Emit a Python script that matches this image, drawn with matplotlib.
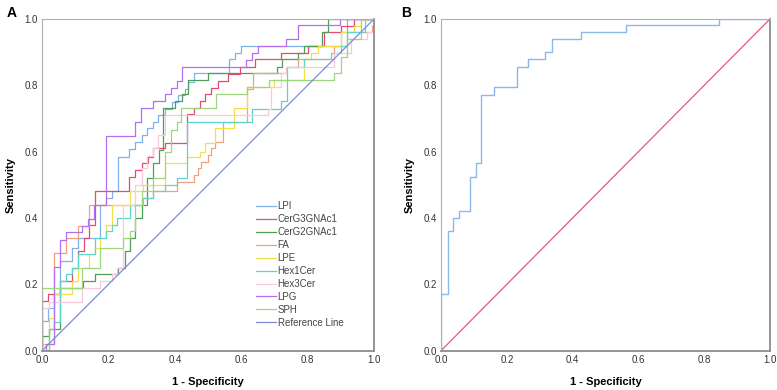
import numpy as np
import matplotlib
matplotlib.use("Agg")
import matplotlib.pyplot as plt

plt.rcParams["font.family"] = ["Liberation Sans", "DejaVu Sans"]

# Panel A: ROC step vertices (x = 1 - specificity where the curve jumps, y = sensitivity after jump)
lpi_x = [0, 0.018, 0.036, 0.054, 0.089, 0.107, 0.175, 0.193, 0.21, 0.229, 0.261, 0.279, 0.30, 0.316,
         0.334, 0.35, 0.37, 0.39, 0.41, 0.43, 0.44, 0.459, 0.564, 0.58, 0.60, 0.90, 0.92, 1.0]
lpi_y = [0.09, 0.13, 0.17, 0.27, 0.31, 0.34, 0.44, 0.46, 0.48, 0.585, 0.608, 0.63, 0.65, 0.67,
         0.69, 0.71, 0.73, 0.75, 0.77, 0.79, 0.81, 0.836, 0.878, 0.898, 0.92, 0.96, 1.0, 1.0]

cerg3_x = [0, 0.019, 0.054, 0.089, 0.107, 0.125, 0.14, 0.16, 0.263, 0.28, 0.30, 0.32, 0.335, 0.37,
           0.437, 0.458, 0.475, 0.49, 0.51, 0.53, 0.56, 0.596, 0.64, 0.72, 0.80, 0.85, 0.90, 0.94, 1.0]
cerg3_y = [0.15, 0.17, 0.21, 0.25, 0.30, 0.34, 0.38, 0.48, 0.523, 0.545, 0.565, 0.585, 0.61, 0.627,
           0.713, 0.733, 0.753, 0.773, 0.793, 0.813, 0.834, 0.856, 0.878, 0.898, 0.92, 0.96, 0.98, 1.0, 1.0]

cerg2_x = [0, 0.02, 0.053, 0.124, 0.159, 0.229, 0.249, 0.265, 0.28, 0.30, 0.315, 0.335, 0.352, 0.365,
           0.40, 0.421, 0.44, 0.50, 0.707, 0.722, 0.772, 0.79, 0.842, 0.862, 1.0]
cerg2_y = [0.044, 0.065, 0.19, 0.21, 0.23, 0.25, 0.30, 0.34, 0.40, 0.44, 0.52, 0.565, 0.605, 0.733,
           0.753, 0.773, 0.816, 0.836, 0.856, 0.878, 0.898, 0.92, 0.96, 1.0, 1.0]

fa_x = [0, 0.037, 0.072, 0.107, 0.142, 0.305, 0.335, 0.405, 0.458, 0.47, 0.48, 0.50, 0.51, 0.52,
        0.545, 0.616, 0.634, 0.735, 0.77, 0.88, 0.92, 0.995, 1.0]
fa_y = [0.02, 0.295, 0.34, 0.377, 0.44, 0.46, 0.48, 0.51, 0.53, 0.55, 0.57, 0.59, 0.61, 0.63,
        0.69, 0.79, 0.836, 0.856, 0.878, 0.92, 0.96, 0.98, 1.0]

lpe_x = [0.02, 0.037, 0.09, 0.107, 0.142, 0.16, 0.175, 0.193, 0.21, 0.265, 0.305, 0.37, 0.437,
         0.476, 0.49, 0.52, 0.578, 0.616, 0.70, 0.79, 0.81, 0.83, 0.90, 0.94, 0.96, 1.0]
lpe_y = [0.10, 0.17, 0.21, 0.25, 0.29, 0.31, 0.34, 0.38, 0.44, 0.48, 0.50, 0.565, 0.585,
         0.60, 0.627, 0.67, 0.731, 0.796, 0.816, 0.878, 0.898, 0.92, 0.96, 0.98, 1.0, 1.0]

hex1_x = [0.02, 0.037, 0.054, 0.072, 0.09, 0.107, 0.16, 0.193, 0.21, 0.227, 0.265, 0.30, 0.335,
          0.37, 0.405, 0.437, 0.632, 0.72, 0.737, 0.79, 0.87, 0.90, 0.92, 0.973, 1.0]
hex1_y = [0.065, 0.085, 0.21, 0.23, 0.25, 0.29, 0.34, 0.36, 0.38, 0.40, 0.44, 0.46, 0.48,
          0.50, 0.52, 0.69, 0.73, 0.753, 0.856, 0.878, 0.898, 0.92, 0.96, 1.0, 1.0]

hex3_x = [0, 0.02, 0.12, 0.175, 0.21, 0.227, 0.245, 0.28, 0.30, 0.315, 0.335, 0.35, 0.37, 0.68,
          0.69, 0.72, 0.735, 0.88, 0.93, 0.98, 1.0]
hex3_y = [0.128, 0.148, 0.19, 0.21, 0.23, 0.25, 0.44, 0.50, 0.55, 0.588, 0.61, 0.65, 0.71, 0.73,
          0.794, 0.836, 0.856, 0.898, 0.94, 0.96, 1.0]

lpg_x = [0.013, 0.035, 0.053, 0.071, 0.121, 0.139, 0.156, 0.194, 0.281, 0.299, 0.334, 0.37, 0.388,
         0.405, 0.421, 0.615, 0.633, 0.651, 0.735, 0.772, 0.898, 1.0]
lpg_y = [0.02, 0.253, 0.334, 0.357, 0.377, 0.397, 0.44, 0.648, 0.689, 0.731, 0.753, 0.773, 0.793,
         0.813, 0.856, 0.876, 0.898, 0.92, 0.94, 0.982, 1.0, 1.0]

sph_x = [0, 0.12, 0.175, 0.245, 0.265, 0.28, 0.30, 0.335, 0.37, 0.388, 0.405, 0.42, 0.525, 0.616,
         0.684, 0.878, 0.899, 0.92, 0.96, 1.0]
sph_y = [0.19, 0.25, 0.31, 0.34, 0.36, 0.44, 0.48, 0.52, 0.60, 0.665, 0.69, 0.733, 0.773, 0.794,
         0.816, 0.836, 0.886, 0.94, 1.0, 1.0]

series_a = [
    ("LPI", lpi_x, lpi_y, "#80b1e9"),
    ("CerG3GNAc1", cerg3_x, cerg3_y, "#e64a6c"),
    ("CerG2GNAc1", cerg2_x, cerg2_y, "#4f9e55"),
    ("FA", fa_x, fa_y, "#f3a07c"),
    ("LPE", lpe_x, lpe_y, "#f2e04a"),
    ("Hex1Cer", hex1_x, hex1_y, "#5ed5cb"),
    ("Hex3Cer", hex3_x, hex3_y, "#f8c8de"),
    ("LPG", lpg_x, lpg_y, "#b46ef0"),
    ("SPH", sph_x, sph_y, "#9dd67c"),
]

# Panel B: combined model
comb_x = [0, 0.020, 0.036, 0.054, 0.089, 0.107, 0.123, 0.160, 0.230, 0.264, 0.316, 0.336, 0.424,
          0.562, 0.844, 1.0]
comb_y = [0.17, 0.36, 0.40, 0.42, 0.524, 0.565, 0.772, 0.794, 0.856, 0.878, 0.899, 0.94, 0.961,
          0.982, 1.0, 1.0]

ticks = [0.0, 0.2, 0.4, 0.6, 0.8, 1.0]


def style_axes(ax):
    ax.set_xlim(0, 1)
    ax.set_ylim(0, 1)
    ax.set_xticks(ticks)
    ax.set_yticks(ticks)
    ax.set_xticklabels([f"{t:.1f}" for t in ticks], fontsize=7, color="#333333")
    ax.set_yticklabels([f"{t:.1f}" for t in ticks], fontsize=7, color="#333333")
    ax.tick_params(length=0, pad=3)
    for side in ("top", "left"):
        ax.spines[side].set_color("#b0b0b0")
        ax.spines[side].set_linewidth(0.8)
    for side in ("right", "bottom"):
        ax.spines[side].set_color("#8c8c8c")
        ax.spines[side].set_linewidth(1.3)
    ax.set_xlabel("1 - Specificity", fontsize=8, fontweight="bold", labelpad=9)
    ax.set_ylabel("Sensitivity", fontsize=8, fontweight="bold", labelpad=6)


fig = plt.figure(figsize=(7.77, 3.9), dpi=100)
ax_a = fig.add_axes([0.0541, 0.1008, 0.4273, 0.8505])
ax_b = fig.add_axes([0.5676, 0.1008, 0.4234, 0.8505])

for name, xs, ys, col in series_a:
    ax_a.plot(np.r_[0, xs], np.r_[0, ys], drawstyle="steps-post", color=col, lw=0.9, label=name)
ax_a.plot([0, 1], [0, 1], color="#7b8ed2", lw=0.9, label="Reference Line")
style_axes(ax_a)
leg = ax_a.legend(loc="upper left", bbox_to_anchor=(0.645, 0.45), frameon=False, fontsize=7,
                  handlelength=2.0, handletextpad=0.2, labelspacing=0.3, borderaxespad=0, borderpad=0)
for txt in leg.get_texts():
    txt.set_color("#444444")

ax_b.plot(np.r_[0, comb_x], np.r_[0, comb_y], drawstyle="steps-post", color="#8cb8ec", lw=1.0)
ax_b.plot([0, 1], [0, 1], color="#e8567a", lw=0.9)
style_axes(ax_b)

fig.text(0.008, 0.985, "A", fontsize=10, fontweight="bold", va="top")
fig.text(0.516, 0.985, "B", fontsize=10, fontweight="bold", va="top")

fig.savefig("out.png", dpi=100)
